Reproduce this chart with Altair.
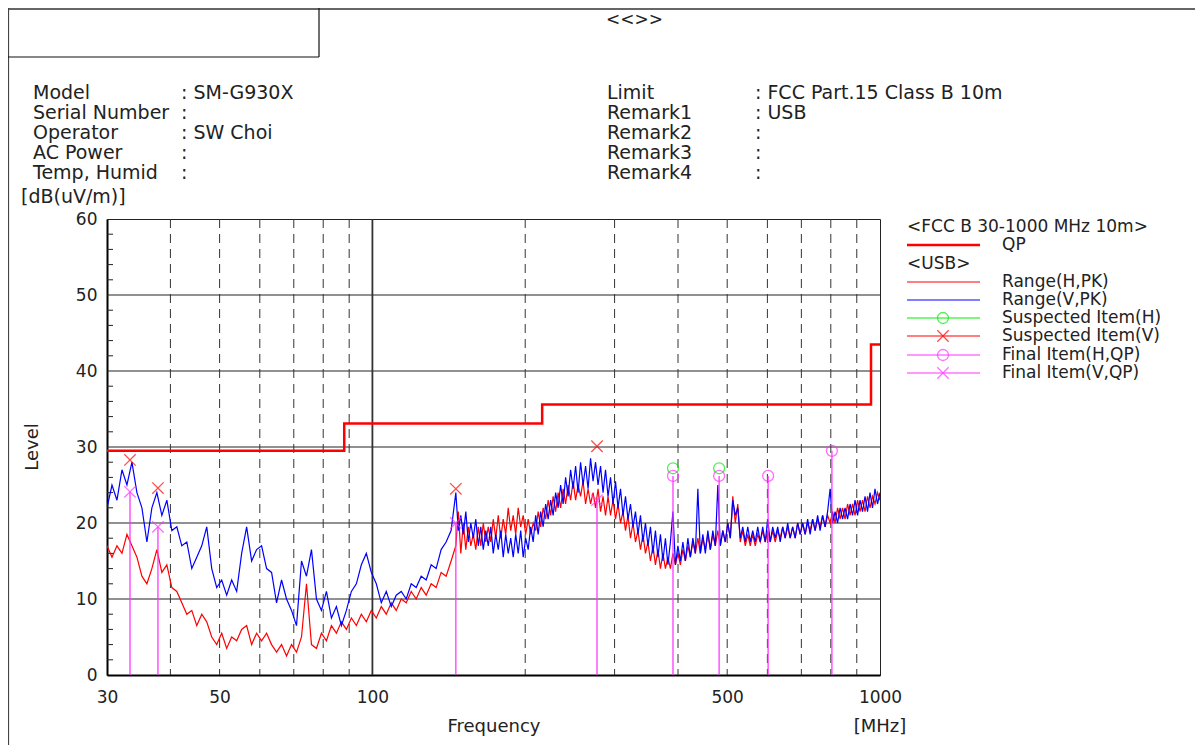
import altair as alt
import numpy as np
import pandas as pd

# ---------------- data ----------------
# Range(H,PK) trace, 30 MHz .. ~144 MHz (coarser sweep segment)
h_pk_a = [17, 15.5, 17, 16, 18.5, 17, 15.5, 13, 12, 14,
          16.5, 13.5, 14.5, 11.5, 11, 9.5, 8, 8.5, 6.5, 8,
          7, 5, 4, 5.5, 3.5, 5, 4.5, 6, 6.5, 4,
          5.5, 4.5, 5.5, 4, 3, 4, 2.5, 4, 3, 5,
          12, 4, 3.5, 5.5, 4.5, 6.5, 5.5, 7, 6, 7.5,
          6.5, 8, 7, 8.5, 7.5, 9, 8, 9.5, 8.5, 10,
          9.5, 11, 10, 11.5, 10.5, 12, 11.5, 13.5, 13, 15]
# Range(H,PK) trace, 146 MHz .. 1000 MHz
h_pk_b = [17, 21.5, 16, 20, 16.5, 19.5, 17, 18.5, 16.5, 19.5,
          17, 20, 17.5, 19.5, 17.5, 20.5, 18, 21, 18, 20.5,
          18.5, 22, 19, 21, 18.5, 22, 19.5, 21, 18.5, 20.5,
          18.5, 20, 19, 21.5, 19.5, 22, 20.5, 23, 21, 23.5,
          21.5, 24, 22, 24.5, 22.5, 25, 23, 25.5, 23, 25,
          23.5, 25.5, 22.5, 24.5, 22.5, 24, 22, 24.5, 21.5, 23.5,
          21, 23.5, 21, 23, 20.5, 22.5, 20, 21.5, 19, 21,
          18, 20, 17.5, 19, 16.5, 18.5, 16, 17.5, 15, 17,
          14.5, 16.5, 14, 16, 14, 15.5, 14, 16, 14.5, 16,
          14.5, 16.5, 15, 17, 15.5, 17.5, 16, 18, 16, 18,
          16.5, 18.5, 16.5, 18.5, 17, 19, 17, 19, 17.5, 20,
          18, 23.5, 20, 22.5, 17.5, 19, 17, 18.5, 17, 18.5,
          17, 18.5, 17.5, 19, 17.5, 19, 17.5, 19, 17.5, 19,
          18, 19.5, 18, 19.5, 18, 19.5, 18, 20, 18.5, 20,
          18.5, 20, 19, 20.5, 19, 20.5, 19.5, 21, 19.5, 21,
          20, 21.5, 20, 22, 20.5, 22, 20.5, 22.5, 21, 22.5,
          21, 23, 21.5, 23, 21.5, 23.5, 22, 23.5, 22.5, 24,
          23]

# Range(V,PK) trace, 30 MHz .. ~144 MHz
v_pk_a = [22, 25, 23, 27, 25, 28, 24, 22, 17.5, 22,
          24, 21, 23, 19, 19.5, 17, 17.5, 14, 15.5, 17,
          19.5, 14, 11.5, 12.5, 10.5, 12.5, 11, 16, 19.5, 15,
          16.5, 17, 14, 13.5, 9.5, 12.5, 10, 8.5, 6.5, 15,
          13, 16.5, 10, 8.5, 11, 7.5, 9, 6.5, 8.5, 11,
          12, 14.5, 16, 13.5, 12, 9.5, 11, 9, 10.5, 11,
          10, 12, 11.5, 13, 12.5, 14.5, 14, 16.5, 17.5, 19]
# Range(V,PK) trace, 146 MHz .. 1000 MHz
v_pk_b = [24, 19, 21, 18.5, 21.5, 17.5, 20, 18, 20.5, 17,
          19.5, 16.5, 19, 17, 19.5, 16, 18.5, 16.5, 19, 15.5,
          18.5, 16, 18, 15.5, 18.5, 16, 19, 15.5, 18, 16.5,
          19.5, 17.5, 21, 18.5, 21.5, 19.5, 22.5, 20.5, 23, 21,
          24, 22, 25, 22.5, 26, 23.5, 27, 24.5, 27.5, 24,
          28, 25, 27.5, 24.5, 28.5, 25.5, 28, 25, 27.5, 24,
          27, 23.5, 26, 22.5, 25.5, 22, 24.5, 21, 23.5, 20.5,
          22.5, 19.5, 21.5, 18.5, 21, 17.5, 20, 17, 19.5, 16,
          19, 15.5, 18.5, 15, 18, 14.5, 17.5, 21.5, 14.5, 17,
          15, 17.5, 15, 18, 15.5, 18, 16, 24.5, 16, 18.5,
          16, 19, 16.5, 19, 17, 25, 17, 19, 17.5, 20,
          18, 23, 21, 22, 18, 19.5, 17.5, 19.5, 17.5, 19,
          17.5, 19.5, 17.5, 19.5, 17.5, 20.5, 17.5, 19.5, 18, 19.5,
          17.5, 19.5, 18, 20, 18, 19.5, 18, 20, 18.5, 20,
          18.5, 20.5, 18.5, 20.5, 19, 21, 19, 21, 19.5, 21.5,
          24.5, 20, 21.5, 20, 22, 20.5, 22, 20.5, 22.5, 21,
          23, 21, 23, 21.5, 23.5, 21.5, 24, 22, 24.5, 22.5,
          24]

# receiver sweep points for the two segments
sweep_a = np.geomspace(30, 1000, 156)[:len(v_pk_a)]
sweep_b_v = np.geomspace(146, 1000, len(v_pk_b))
sweep_b_h = np.geomspace(146, 1000, len(h_pk_b))

limit_f = [30, 88, 216, 960, 1000]
limit_v = [29.5, 33.1, 35.6, 43.5, 43.5]

susp_h_f = [391, 482]
susp_h_v = [27.2, 27.2]
susp_v_f = [33.3, 37.8, 146, 277]
susp_v_v = [28.3, 24.6, 24.5, 30.1]
final_h_f = [391, 482, 602, 804]
final_h_v = [26.2, 26.2, 26.2, 29.5]
final_v_f = [33.3, 37.8, 146, 277]
final_v_v = [24.1, 19.5, 20.0, 23.0]

x_ticks = [30, 50, 100, 500, 1000]
y_ticks = [0, 10, 20, 30, 40, 50, 60]
y_minor = [v for v in range(2, 60, 2) if v % 10]
v_grid_dashed = [40, 50, 60, 70, 80, 90, 200, 300, 400, 500, 600, 700, 800, 900]
v_grid_solid = [100]
h_grid = [10, 20, 30, 40, 50]

info_left = ["Model", "Serial Number", "Operator", "AC Power", "Temp, Humid"]
info_left_val = [": SM-G930X", ":", ": SW Choi", ":", ":"]
info_right = ["Limit", "Remark1", "Remark2", "Remark3", "Remark4"]
info_right_val = [": FCC Part.15 Class B 10m", ": USB", ":", ":", ":"]

legend_labels = ["QP", "Range(H,PK)", "Range(V,PK)", "Suspected Item(H)",
                 "Suspected Item(V)", "Final Item(H,QP)", "Final Item(V,QP)"]

# ---------------- styles ----------------
FONT = "DejaVu Sans"
RED = "#ff0000"
BLUE = "#0000ff"
GREEN = "#00ee00"
MAG = "#ff33ff"
XSHAPE = "M-1,-1L1,1M-1,1L1,-1"
W, H = 773, 456

xs = alt.Scale(type="log", domain=[30, 1000], nice=False)
ys = alt.Scale(domain=[0, 60], nice=False)

dummy = alt.Data(values=[{}])


def txt(s, x, y, size=19, align="left", angle=0, color="#222"):
    kw = dict(font=FONT, fontSize=size, align=align, baseline="middle", color=color)
    if angle:
        kw["angle"] = angle
    return alt.Chart(dummy).mark_text(**kw).encode(
        x=alt.value(x), y=alt.value(y), text=alt.value(s))


def hline(x1, x2, y, color="#222", width=1.0):
    return alt.Chart(dummy).mark_rule(color=color, strokeWidth=width).encode(
        x=alt.value(x1), x2=alt.value(x2), y=alt.value(y))


def vline(x, y1, y2, color="#222", width=1.0):
    return alt.Chart(dummy).mark_rule(color=color, strokeWidth=width).encode(
        x=alt.value(x), y=alt.value(y1), y2=alt.value(y2))


layers = []

# base with axes
axis_df = pd.DataFrame({"f": [30, 1000], "v": [0, 60]})
base = alt.Chart(axis_df).mark_point(opacity=0).encode(
    x=alt.X("f:Q", scale=xs, axis=alt.Axis(values=x_ticks, format="d", title=None, grid=False,
                                           ticks=False, labelFont=FONT, labelFontSize=17,
                                           labelColor="#222", labelPadding=14,
                                           domainColor="#000", domainWidth=2, labelFlush=False)),
    y=alt.Y("v:Q", scale=ys, axis=alt.Axis(values=y_ticks, title=None, grid=False, ticks=False,
                                           labelFont=FONT, labelFontSize=17, labelColor="#222",
                                           labelPadding=10, domainColor="#000", domainWidth=2)),
)
layers.append(base)

# grid
layers.append(alt.Chart(pd.DataFrame({"v": h_grid})).mark_rule(color="#222", strokeWidth=1)
              .encode(y=alt.Y("v:Q", scale=ys)))
layers.append(alt.Chart(pd.DataFrame({"f": v_grid_dashed})).mark_rule(color="#333", strokeWidth=1,
                                                                       strokeDash=[9, 6])
              .encode(x=alt.X("f:Q", scale=xs)))
layers.append(alt.Chart(pd.DataFrame({"f": v_grid_solid})).mark_rule(color="#333", strokeWidth=1.8)
              .encode(x=alt.X("f:Q", scale=xs)))
layers.append(alt.Chart(pd.DataFrame({"v": y_minor})).mark_rule(color="#222", strokeWidth=1)
              .encode(y=alt.Y("v:Q", scale=ys), x=alt.value(0), x2=alt.value(6)))

# traces
h_df = pd.DataFrame({"f": np.concatenate([sweep_a, sweep_b_h]), "lvl": h_pk_a + h_pk_b})
v_df = pd.DataFrame({"f": np.concatenate([sweep_a, sweep_b_v]), "lvl": v_pk_a + v_pk_b})
layers.append(alt.Chart(h_df).mark_line(color=RED, strokeWidth=1.2, clip=True)
              .encode(x=alt.X("f:Q", scale=xs), y=alt.Y("lvl:Q", scale=ys)))
layers.append(alt.Chart(v_df).mark_line(color=BLUE, strokeWidth=1.2, clip=True)
              .encode(x=alt.X("f:Q", scale=xs), y=alt.Y("lvl:Q", scale=ys)))

# limit
lim_df = pd.DataFrame({"f": limit_f, "v": limit_v})
layers.append(alt.Chart(lim_df).mark_line(color=RED, strokeWidth=2.5, interpolate="step-after")
              .encode(x=alt.X("f:Q", scale=xs), y=alt.Y("v:Q", scale=ys)))

# final item stems
fh = pd.DataFrame({"f": final_h_f, "v": final_h_v})
fv = pd.DataFrame({"f": final_v_f, "v": final_v_v})
sh = pd.DataFrame({"f": susp_h_f, "v": susp_h_v})
sv = pd.DataFrame({"f": susp_v_f, "v": susp_v_v})
for d in (fh, fv):
    layers.append(alt.Chart(d).mark_rule(color=MAG, strokeWidth=1.4, opacity=0.9)
                  .encode(x=alt.X("f:Q", scale=xs), y=alt.Y("v:Q", scale=ys), y2=alt.datum(0)))

# markers
layers.append(alt.Chart(sh).mark_point(shape="circle", filled=False, size=120, color=GREEN,
                                       strokeWidth=1.3)
              .encode(x=alt.X("f:Q", scale=xs), y=alt.Y("v:Q", scale=ys)))
layers.append(alt.Chart(sv).mark_point(shape=XSHAPE, filled=False, size=130, color=RED,
                                       strokeWidth=1.3)
              .encode(x=alt.X("f:Q", scale=xs), y=alt.Y("v:Q", scale=ys)))
layers.append(alt.Chart(fh).mark_point(shape="circle", filled=False, size=120, color=MAG,
                                       strokeWidth=1.3)
              .encode(x=alt.X("f:Q", scale=xs), y=alt.Y("v:Q", scale=ys)))
layers.append(alt.Chart(fv).mark_point(shape=XSHAPE, filled=False, size=130, color=MAG,
                                       strokeWidth=1.3)
              .encode(x=alt.X("f:Q", scale=xs), y=alt.Y("v:Q", scale=ys)))

# ---------- page frame & header ----------
layers.append(hline(-99, 1088, -210, color="#666", width=2))
layers.append(vline(-98.5, -211, 526, color="#444", width=1.2))
layers.append(hline(-99, 212, -162, color="#111", width=1.2))
layers.append(vline(212, -211, -162, color="#111", width=1.2))
layers.append(txt("<<>>", 499, -199, size=17))

for i in range(5):
    yy = -126 + 20 * i
    layers.append(txt(info_left[i], -74, yy))
    layers.append(txt(info_left_val[i], 74, yy))
    layers.append(txt(info_right[i], 500, yy))
    layers.append(txt(info_right_val[i], 648, yy))

layers.append(txt("[dB(uV/m)]", -86, -22))
layers.append(txt("Level", -74, 228, size=18, align="center", angle=270))
layers.append(txt("Frequency", 387, 508, size=18, align="center"))
layers.append(txt("[MHz]", 773, 508, size=18, align="center"))

# ---------- legend ----------
LX1, LX2, LM, LT = 800, 873, 836, 895
layers.append(txt("<FCC B 30-1000 MHz 10m>", LX1, 8, size=17))
layers.append(hline(LX1, LX2, 26, color=RED, width=2.5))
layers.append(txt(legend_labels[0], LT, 26, size=17))
layers.append(txt("<USB>", LX1, 45, size=17))
rows = [(63, RED, None), (81, BLUE, None), (99, GREEN, "circle"), (117, RED, XSHAPE),
        (136, MAG, "circle"), (154, MAG, XSHAPE)]
for k, (yy, col, shp) in enumerate(rows):
    layers.append(hline(LX1, LX2, yy, color=col, width=1.2))
    if shp:
        layers.append(alt.Chart(dummy).mark_point(shape=shp, filled=False, color=col,
                                                  size=120 if shp == "circle" else 130,
                                                  strokeWidth=1.3)
                      .encode(x=alt.value(LM), y=alt.value(yy)))
    layers.append(txt(legend_labels[k + 1], LT, yy, size=17))

chart = alt.layer(*layers).properties(
    width=W, height=H,
    padding={"left": 99, "top": 211, "right": 315, "bottom": 70},
    autosize=alt.AutoSizeParams(type="none"),
    background="white",
).configure_view(stroke="#222", strokeWidth=1)

chart.save("out.html", embed_options={"renderer": "svg", "actions": False})
